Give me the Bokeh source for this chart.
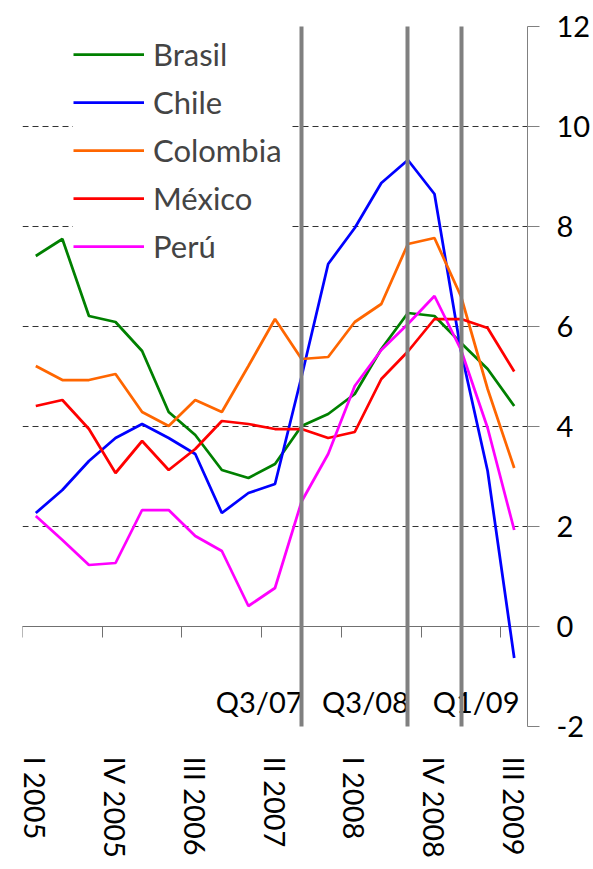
import numpy as np
from bokeh.plotting import figure
from bokeh.models import Range1d, FixedTicker, LinearAxis, Legend, LegendItem
from bokeh.core.properties import value
from bokeh.embed import file_html
from bokeh.resources import INLINE

# ---------------- data ----------------
quarters = ["I 2005", "II 2005", "III 2005", "IV 2005",
            "I 2006", "II 2006", "III 2006", "IV 2006",
            "I 2007", "II 2007", "III 2007", "IV 2007",
            "I 2008", "II 2008", "III 2008", "IV 2008",
            "I 2009", "II 2009", "III 2009"]

brasil   = [7.41, 7.75, 6.21, 6.09, 5.51, 4.29, 3.83, 3.13, 2.97, 3.25,
            4.01, 4.25, 4.65, 5.55, 6.27, 6.21, 5.67, 5.15, 4.41]
chile    = [2.27, 2.73, 3.31, 3.77, 4.05, 3.77, 3.45, 2.27, 2.67, 2.85,
            5.00, 7.25, 7.97, 8.87, 9.33, 8.65, 5.50, 3.11, -0.63]
colombia = [5.21, 4.93, 4.93, 5.05, 4.29, 4.01, 4.53, 4.29, 5.21, 6.15,
            5.35, 5.39, 6.09, 6.45, 7.65, 7.77, 6.60, 4.75, 3.17]
mexico   = [4.41, 4.53, 3.95, 3.07, 3.71, 3.13, 3.55, 4.11, 4.05, 3.95,
            3.95, 3.77, 3.89, 4.95, 5.50, 6.15, 6.15, 5.97, 5.10]
peru     = [2.21, 1.73, 1.23, 1.27, 2.33, 2.33, 1.81, 1.51, 0.41, 0.77,
            2.50, 3.45, 4.81, 5.53, 6.05, 6.61, 5.53, 3.97, 1.93]

series_names  = ["Brasil", "Chile", "Colombia", "México", "Perú"]
series_values = [brasil, chile, colombia, mexico, peru]
series_colors = ["#008000", "#0000FF", "#FF6600", "#FF0000", "#FF00FF"]

event_labels   = ["Q3/07", "Q3/08", "Q1/09"]
event_quarters = ["III 2007", "III 2008", "I 2009"]

y_ticks = [-2, 0, 2, 4, 6, 8, 10, 12]
label_step = 3

# ---------------- layout constants ----------------
FONT = "Lato"
FS = "29px"
event_label_shift = [0.0, 0.0, 2.16]   # in quarter units (label placement)
event_label_y = -1.5

n = len(quarters)
xs = np.arange(n)

p = figure(width=593, height=869,
           x_range=Range1d(-0.5, n - 0.5), y_range=Range1d(-2, 12),
           y_axis_location="right", output_backend="svg", toolbar_location=None,
           min_border_left=22, min_border_top=26, min_border_right=65,
           min_border_bottom=143)
p.outline_line_color = None
p.background_fill_color = "white"
p.border_fill_color = "white"

# grid
p.xgrid.visible = False
p.ygrid.ticker = FixedTicker(ticks=y_ticks)
p.ygrid.grid_line_color = "#333333"
p.ygrid.grid_line_dash = "6 4"
p.ygrid.grid_line_width = 1

# right value axis
ya = p.yaxis[0]
ya.ticker = FixedTicker(ticks=y_ticks)
ya.major_label_overrides = {t: str(t) for t in y_ticks}
ya.axis_line_color = "#808080"
ya.major_tick_line_color = "#808080"
ya.major_tick_out = 12
ya.major_tick_in = 0
ya.minor_tick_line_color = None
ya.major_label_standoff = 17
ya.major_label_text_font = FONT
ya.major_label_text_font_size = FS
ya.major_label_text_color = "black"

# bottom category labels
label_idx = list(range(0, n, label_step))
xa = p.xaxis[0]
xa.ticker = FixedTicker(ticks=label_idx)
xa.major_label_overrides = {i: quarters[i] for i in label_idx}
xa.major_label_orientation = "vertical"
xa.axis_line_color = None
xa.major_tick_line_color = None
xa.minor_tick_line_color = None
xa.major_label_standoff = 24
xa.major_label_text_font = FONT
xa.major_label_text_font_size = FS
xa.major_label_text_color = "black"

# category axis line at y = 0 with ticks between categories
za = LinearAxis(fixed_location=0,
                ticker=FixedTicker(ticks=[i - 0.5 for i in label_idx]),
                axis_line_color="#707070", major_tick_line_color="#707070",
                major_tick_out=11, major_tick_in=0, minor_tick_line_color=None,
                major_label_text_font_size="0px", major_label_text_color=None)
p.add_layout(za, "below")

# series
renderers = []
for name, vals, col in zip(series_names, series_values, series_colors):
    r = p.line(xs, vals, line_color=col, line_width=2.75, level="overlay")
    renderers.append(r)

legend = Legend(items=[LegendItem(label=nm, renderers=[r])
                       for nm, r in zip(series_names, renderers)],
                location=(51, 461), padding=8, spacing=10, glyph_width=71,
                label_standoff=9, label_width=136,
                label_text_font=FONT, label_text_font_size="31px",
                border_line_color=None, background_fill_color="white",
                background_fill_alpha=1.0)
p.add_layout(legend)

# event lines (full-height vertical glyphs)
event_x = [quarters.index(q) for q in event_quarters]
p.vspan(x=event_x, line_color="#808080", line_width=4, level="overlay")

p.text(x=[ex + s for ex, s in zip(event_x, event_label_shift)],
       y=[event_label_y] * len(event_x), text=event_labels,
       text_align="right", text_baseline="alphabetic", x_offset=1,
       text_font=value(FONT), text_font_size=value(FS), text_color="black")

open("out.html", "w").write(file_html(p, INLINE))
